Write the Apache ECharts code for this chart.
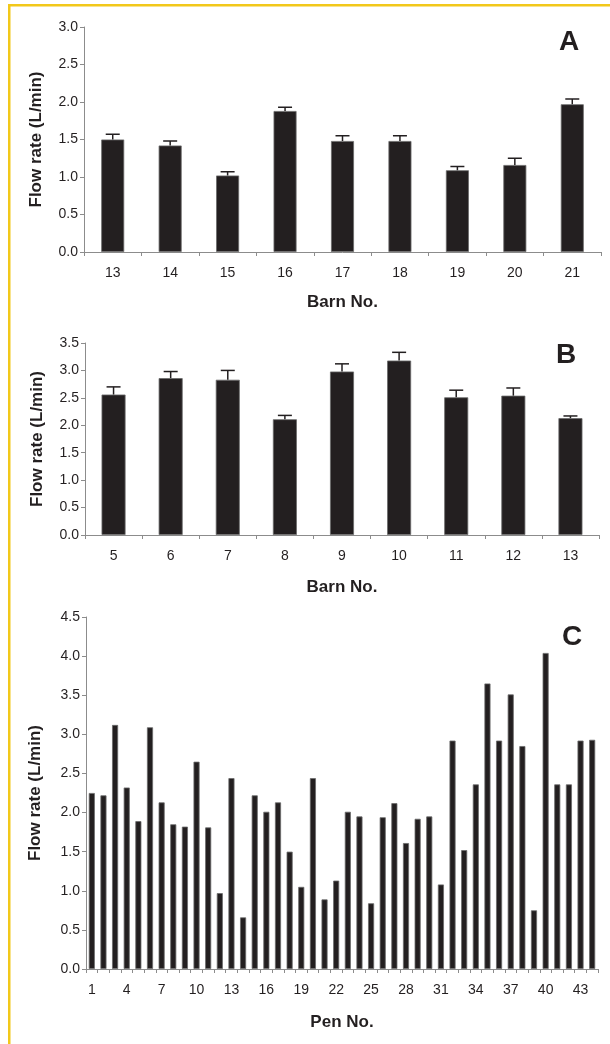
<!DOCTYPE html>
<html>
<head>
<meta charset="utf-8">
<script src="https://cdn.jsdelivr.net/npm/echarts@6/dist/echarts.min.js"></script>
<style>
html,body{margin:0;padding:0;background:#fff;}
#chart{width:610px;height:1044px;}
</style>
</head>
<body>
<div id="chart"></div>
<script>
// Panel A
var barnsA = ['13','14','15','16','17','18','19','20','21'];
var meanA  = [1.50, 1.42, 1.02, 1.88, 1.48, 1.48, 1.09, 1.16, 1.97];
var errA   = [0.07, 0.06, 0.05, 0.05, 0.07, 0.07, 0.05, 0.09, 0.07];
// Panel B
var barnsB = ['5','6','7','8','9','10','11','12','13'];
var meanB  = [2.56, 2.86, 2.83, 2.11, 2.98, 3.18, 2.51, 2.54, 2.13];
var errB   = [0.14, 0.12, 0.17, 0.07, 0.14, 0.15, 0.13, 0.14, 0.04];
// Panel C
var pens = [];
for (var i = 1; i <= 44; i++) pens.push(String(i));
var flowC = [2.25, 2.22, 3.12, 2.32, 1.89, 3.09, 2.13, 1.85, 1.82, 2.65,
             1.81, 0.97, 2.44, 0.66, 2.22, 2.01, 2.13, 1.50, 1.05, 2.44,
             0.89, 1.13, 2.01, 1.95, 0.84, 1.94, 2.12, 1.61, 1.92, 1.95,
             1.08, 2.92, 1.52, 2.36, 3.65, 2.92, 3.51, 2.85, 0.75, 4.04,
             2.36, 2.36, 2.92, 2.93];
var yTitle = 'Flow rate (L/min)';
var panelLetters = ['A', 'B', 'C'];
var xTitles = ['Barn No.', 'Barn No.', 'Pen No.'];

var ink = '#231f20';
var axisGray = '#8c8c8c';
var FONT = '"Liberation Sans", Arial, sans-serif';

function xAxisDef(idx, cats, labelInterval) {
  return {
    type: 'category', gridIndex: idx, data: cats, boundaryGap: true,
    name: xTitles[idx], nameLocation: 'middle', nameGap: idx === 0 ? 42 : (idx === 1 ? 44 : 45),
    nameTextStyle: {fontFamily: FONT, fontWeight: 'bold', fontSize: 17, color: ink},
    axisLine: {show: true, lineStyle: {color: axisGray, width: 1}},
    axisTick: {show: true, interval: 0, alignWithLabel: false, length: 4, lineStyle: {color: axisGray}},
    axisLabel: {interval: labelInterval, margin: 14, fontFamily: FONT, fontSize: 14, color: ink},
    splitLine: {show: false}
  };
}
function yAxisDef(idx, maxV, gap) {
  return {
    type: 'value', gridIndex: idx, min: 0, max: maxV, interval: 0.5,
    name: yTitle, nameLocation: 'middle', nameGap: gap, nameRotate: 90, nameMoveOverlap: false,
    nameTextStyle: {fontFamily: FONT, fontWeight: 'bold', fontSize: 17, color: ink},
    axisLine: {show: true, lineStyle: {color: axisGray, width: 1}},
    axisTick: {show: true, inside: false, length: 4, lineStyle: {color: axisGray}},
    axisLabel: {margin: 6, fontFamily: FONT, fontSize: 14, color: ink,
      formatter: function (v) { return v.toFixed(1); }},
    splitLine: {show: false}
  };
}
function errRender(params, api) {
  var v = api.value(1), e = api.value(2);
  var p0 = api.coord([api.value(0), v]);
  var p1 = api.coord([api.value(0), v + e]);
  var hw = 7;
  var st = {stroke: ink, lineWidth: 1.5};
  return {type: 'group', children: [
    {type: 'line', shape: {x1: p0[0], y1: p0[1], x2: p1[0], y2: p1[1]}, style: st},
    {type: 'line', shape: {x1: p1[0] - hw, y1: p1[1], x2: p1[0] + hw, y2: p1[1]}, style: st}
  ]};
}
function errData(cats, means, errs) {
  return cats.map(function (c, i) { return [i, means[i], errs[i]]; });
}
var barStyle = {color: ink, borderColor: '#6a6a6a', borderWidth: 0.8};

var chart = echarts.init(document.getElementById('chart'), null, {renderer: 'canvas'});
chart.setOption({
  backgroundColor: '#ffffff',
  animation: false,
  grid: [
    {left: 84, right: 9, top: 27, height: 225},
    {left: 85, right: 11, top: 343, height: 192},
    {left: 86, right: 12, top: 617, height: 352}
  ],
  xAxis: [xAxisDef(0, barnsA, 0), xAxisDef(1, barnsB, 0), xAxisDef(2, pens, 2)],
  yAxis: [yAxisDef(0, 3.0, 39), yAxisDef(1, 3.5, 39), yAxisDef(2, 4.5, 42)],
  series: [
    {type: 'bar', xAxisIndex: 0, yAxisIndex: 0, data: meanA, barWidth: '40%', itemStyle: barStyle},
    {type: 'custom', xAxisIndex: 0, yAxisIndex: 0, renderItem: errRender, data: errData(barnsA, meanA, errA), encode: {x: 0, y: 1}, z: 5},
    {type: 'bar', xAxisIndex: 1, yAxisIndex: 1, data: meanB, barWidth: '42%', itemStyle: barStyle},
    {type: 'custom', xAxisIndex: 1, yAxisIndex: 1, renderItem: errRender, data: errData(barnsB, meanB, errB), encode: {x: 0, y: 1}, z: 5},
    {type: 'bar', xAxisIndex: 2, yAxisIndex: 2, data: flowC, barWidth: '52%', itemStyle: barStyle}
  ],
  graphic: [
    {type: 'rect', shape: {x: 8, y: 4, width: 602, height: 2.5}, style: {fill: '#f2c81a'}, silent: true},
    {type: 'rect', shape: {x: 8, y: 4, width: 2.5, height: 1040}, style: {fill: '#f2c81a'}, silent: true},
    {type: 'text', x: 569, y: 42, style: {text: panelLetters[0], font: 'bold 28px ' + FONT, fill: ink, align: 'center', verticalAlign: 'middle'}},
    {type: 'text', x: 566, y: 355, style: {text: panelLetters[1], font: 'bold 28px ' + FONT, fill: ink, align: 'center', verticalAlign: 'middle'}},
    {type: 'text', x: 572, y: 637, style: {text: panelLetters[2], font: 'bold 28px ' + FONT, fill: ink, align: 'center', verticalAlign: 'middle'}}
  ]
});
</script>
</body>
</html>
